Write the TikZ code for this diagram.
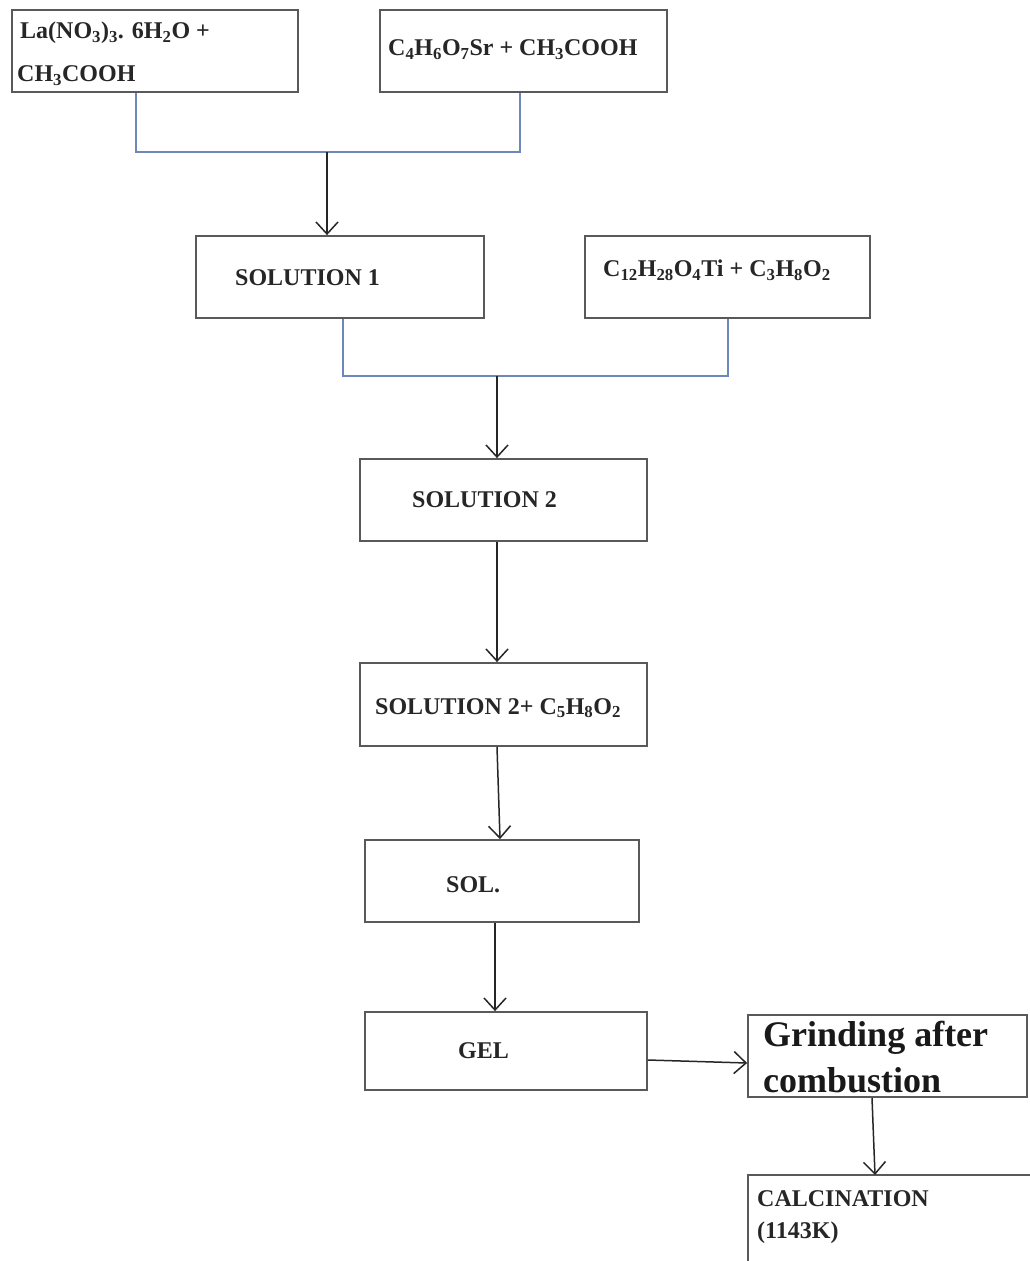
\documentclass[tikz,border=0pt]{standalone}
\usepackage{fontspec}
\setmainfont{Liberation Serif}
\usetikzlibrary{arrows.meta}
\newcommand{\subs}[1]{\textsubscript{#1}}
\begin{document}
\begin{tikzpicture}[x=1pt,y=-1pt,
  box/.style={draw=black!65, line width=1.8pt, rectangle, inner sep=0pt},
  txt/.style={font=\bfseries\fontsize{24}{32}\selectfont, inner sep=0pt, anchor=west, text=black!85},
  bigtxt/.style={font=\bfseries\fontsize{36}{46}\selectfont, inner sep=0pt, anchor=west, align=left, text=black!90},
  blueline/.style={line width=1.6pt, color={rgb,255:red,110;green,135;blue,185}},
  arr/.style={draw=black!85, line width=1.5pt, -{Straight Barb[length=12pt,width=22pt,line width=1.5pt]}}]
\useasboundingbox (0,0) rectangle (1029,1261);
\fill[white] (0,0) rectangle (1029,1261);

% boxes
\node[box, minimum width=286, minimum height=82] (b1) at (155,51) {};
\node[box, minimum width=287, minimum height=82] (b2) at (523.5,51) {};
\node[box, minimum width=288, minimum height=82] (s1) at (340,277) {};
\node[box, minimum width=285, minimum height=82] (c12) at (727.5,277) {};
\node[box, minimum width=287, minimum height=82] (s2) at (503.5,500) {};
\node[box, minimum width=287, minimum height=83] (s2p) at (503.5,704.5) {};
\node[box, minimum width=274, minimum height=82] (sol) at (502,881) {};
\node[box, minimum width=282, minimum height=78] (gel) at (506,1051) {};
\node[box, minimum width=279, minimum height=82] (grind) at (887.5,1056) {};
\draw[draw=black!65, line width=1.8pt] (1040,1175) -- (748,1175) -- (748,1270);
\coordinate (calc) at (875,1175);

% texts
\node[txt] (t1a) at (20,33) {La(NO\subs{3})\subs{3}. 6H\subs{2}O +};
\node[txt] (t1b) at (17,76) {CH\subs{3}COOH};
\node[txt] (t2) at (388,50) {C\subs{4}H\subs{6}O\subs{7}Sr + CH\subs{3}COOH};
\node[txt] (t3) at (235,278) {SOLUTION 1};
\node[txt] (t4) at (603,270) {C\subs{12}H\subs{28}O\subs{4}Ti + C\subs{3}H\subs{8}O\subs{2}};
\node[txt] (t5) at (412,500) {SOLUTION 2};
\node[txt] (t6) at (375,708) {SOLUTION 2+ C\subs{5}H\subs{8}O\subs{2}};
\node[txt] (t7) at (446,885) {SOL.};
\node[txt] (t8) at (458,1051) {GEL};
\node[bigtxt] (t9) at (763,1057) {Grinding after\\combustion};
\node[txt, align=left] (t10) at (757,1217) {CALCINATION\\(1143K)};

% blue joins
\coordinate (j1l) at (136,152);
\coordinate (j1r) at (520,152);
\coordinate (j1m) at (327,152);
\draw[blueline] (b1.south -| j1l) -- (j1l) -- (j1r) -- (b2.south -| j1r);
\coordinate (j2l) at (343,376);
\coordinate (j2r) at (728,376);
\coordinate (j2m) at (497,376);
\draw[blueline] (s1.south -| j2l) -- (j2l) -- (j2r) -- (c12.south -| j2r);

% arrows
\draw[arr] (j1m) -- (s1.north -| j1m);
\draw[arr] (j2m) -- (s2.north -| j2m);
\draw[arr] (s2.south -| j2m) -- (s2p.north -| j2m);
\coordinate (a4) at (497,0);
\coordinate (a4b) at (500,0);
\draw[arr] (s2p.south -| a4) -- (sol.north -| a4b);
\coordinate (a5) at (495,0);
\draw[arr] (sol.south -| a5) -- (gel.north -| a5);
\coordinate (a6) at (0,1060);
\coordinate (a6b) at (0,1063);
\draw[arr] (gel.east |- a6) -- (grind.west |- a6b);
\coordinate (a7) at (872,0);
\draw[arr] (grind.south -| a7) -- (calc);
\end{tikzpicture}
\end{document}
